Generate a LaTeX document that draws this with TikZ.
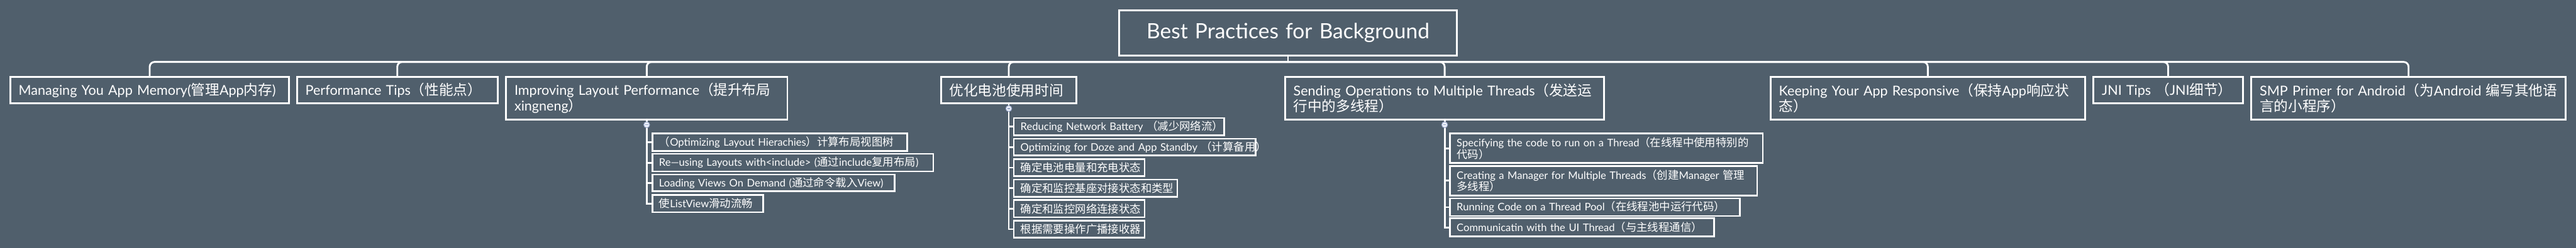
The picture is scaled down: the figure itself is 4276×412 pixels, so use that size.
\documentclass[tikz,border=0pt]{standalone}
\usepackage{fontspec}
\setmainfont{Lato}
\newfontfamily\cjk{Noto Sans CJK SC}[Scale=1.05]
\newcommand\zh[1]{{\cjk #1}}
\definecolor{bg}{RGB}{80,95,108}
\definecolor{foldline}{RGB}{150,165,200}
\definecolor{foldfill}{RGB}{235,240,250}
\begin{document}
\begin{tikzpicture}[x=1pt,y=-1pt,
  conn/.style={draw=white, line width=3pt},
  rootbox/.style={draw=white, line width=3pt, text=white, align=center, inner xsep=14pt, inner ysep=0pt, font=\fontsize{35}{40}\selectfont},
  topbox/.style={draw=white, line width=3pt, text=white, align=left, inner xsep=14pt, inner ysep=0pt, font=\fontsize{22.5}{26}\selectfont},
  subbox/.style={draw=white, line width=2.6pt, text=white, align=left, inner xsep=11pt, inner ysep=0pt, font=\fontsize{17.3}{18.5}\selectfont},
  fold/.style={circle, draw=foldline, fill=foldfill, line width=1pt, minimum size=10pt, inner sep=0pt},
  foldmark/.style={draw=foldline, line width=1.3pt}
]
\fill[bg] (0,0) rectangle (4276,412);
\useasboundingbox (0,0) rectangle (4276,412);

% root
\node[rootbox, text width=532pt, minimum height=75pt] (root) at (2138,54.5) {Best Practices for Background};

% first level
\node[topbox, text width=435pt, minimum height=44pt] (b1) at (248.5,150) {\mbox{Managing You App Memory(\zh{管理}App\zh{内存})}};
\node[topbox, text width=305pt, minimum height=44pt] (b2) at (659.5,150) {Performance Tips\zh{（性能点）}};
\node[topbox, text width=439pt, minimum height=71pt] (b3) at (1073.5,163.5) {\mbox{Improving Layout Performance\zh{（提升布局}}\\xingneng\zh{）}};
\node[topbox, text width=197pt, minimum height=44pt] (b4) at (1674.5,150) {\zh{优化电池使用时间}};
\node[topbox, text width=502pt, minimum height=71pt] (b5) at (2398,163.5) {\mbox{Sending Operations to Multiple Threads\zh{（发送运}}\\\zh{行中的多线程）}};
\node[topbox, text width=494pt, minimum height=71pt] (b6) at (3200,163.5) {\mbox{Keeping Your App Responsive\zh{（保持}App\zh{响应状}}\\\zh{态）}};
\node[topbox, text width=220pt, minimum height=44pt] (b7) at (3599,150) {JNI Tips \zh{（}JNI\zh{细节）}};
\node[topbox, text width=494pt, minimum height=71pt] (b8) at (3998,163.5) {\mbox{SMP Primer for Android\zh{（为}Android \zh{编写其他语}}\\\zh{言的小程序）}};

% children of b3
\node[subbox, text width=401pt, minimum height=29pt] (b3a) at (1294.5,236.5) {\mbox{\zh{（}Optimizing Layout Hierachies\zh{）计算布局视图树}}};
\node[subbox, text width=444pt, minimum height=29pt] (b3b) at (1316,270.5) {\mbox{Re—using Layouts with<include> (\zh{通过}include\zh{复用布局})}};
\node[subbox, text width=380pt, minimum height=28pt] (b3c) at (1284,304) {\mbox{Loading Views On Demand (\zh{通过命令载入}View)}};
\node[subbox, text width=162pt, minimum height=29pt] (b3d) at (1175,338.5) {\zh{使}ListView\zh{滑动流畅}};

% children of b4
\node[subbox, text width=327pt, minimum height=29pt] (b4a) at (1857.5,210.5) {\mbox{Reducing Network Battery \zh{（减少网络流）}}};
\node[subbox, text width=385pt, inner xsep=8pt, minimum height=28pt] (b4b) at (1883.5,244.6) {\mbox{\hspace{3pt}Optimizing for Doze and App Standby \zh{（计算备用）}}};
\node[subbox, text width=195pt, minimum height=28pt] (b4c) at (1791.5,278.7) {\zh{确定电池电量和充电状态}};
\node[subbox, text width=249pt, minimum height=29pt] (b4d) at (1818.5,312.8) {\zh{确定和监控基座对接状态和类型}};
\node[subbox, text width=195pt, minimum height=29pt] (b4e) at (1791.5,346.9) {\zh{确定和监控网络连接状态}};
\node[subbox, text width=195pt, minimum height=28pt] (b4f) at (1791.5,381) {\zh{根据需要操作广播接收器}};

% children of b5
\node[subbox, text width=497pt, minimum height=49pt] (b5a) at (2666.5,246.5) {\mbox{Specifying the code to run on a Thread\zh{（在线程中使用特别的}}\\\zh{代码）}};
\node[subbox, text width=488pt, minimum height=49pt] (b5b) at (2662,300.5) {\mbox{Creating a Manager for Multiple Threads\zh{（创建}Manager \zh{管理}}\\\zh{多线程）}};
\node[subbox, text width=459pt, minimum height=29pt] (b5c) at (2647.5,344.5) {\mbox{Running Code on a Thread Pool\zh{（在线程池中运行代码）}}};
\node[subbox, text width=416pt, minimum height=30pt] (b5d) at (2626,378) {\mbox{Communicatin with the UI Thread\zh{（与主线程通信）}}};

% main connectors
\coordinate (hub) at (2138,103);
\draw[conn] (root.south) -- (hub);
\foreach \n in {b1,b2,b3,b4,b5,b6,b7,b8}
  \draw[conn, rounded corners=8pt] (hub) -| (\n.north);

% sub-tree connectors
\draw[conn] (b3.south) |- (b3d.west);
\foreach \c in {b3a,b3b,b3c} \draw[conn] (b3.south |- \c.west) -- (\c.west);
\draw[conn] (b4.south) |- (b4f.west);
\foreach \c in {b4a,b4b,b4c,b4d,b4e} \draw[conn] (b4.south |- \c.west) -- (\c.west);
\draw[conn] (b5.south) |- (b5d.west);
\foreach \c in {b5a,b5b,b5c} \draw[conn] (b5.south |- \c.west) -- (\c.west);

% fold markers
\node[fold] (f3) at ([yshift=-7pt]b3.south) {};
\draw[foldmark] ([xshift=-2.5pt]f3.center) -- ([xshift=2.5pt]f3.center);
\node[fold] (f4) at ([yshift=-7pt]b4.south) {};
\draw[foldmark] ([xshift=-2.5pt]f4.center) -- ([xshift=2.5pt]f4.center);
\node[fold] (f5) at ([yshift=-7pt]b5.south) {};
\draw[foldmark] ([xshift=-2.5pt]f5.center) -- ([xshift=2.5pt]f5.center);
\end{tikzpicture}
\end{document}
